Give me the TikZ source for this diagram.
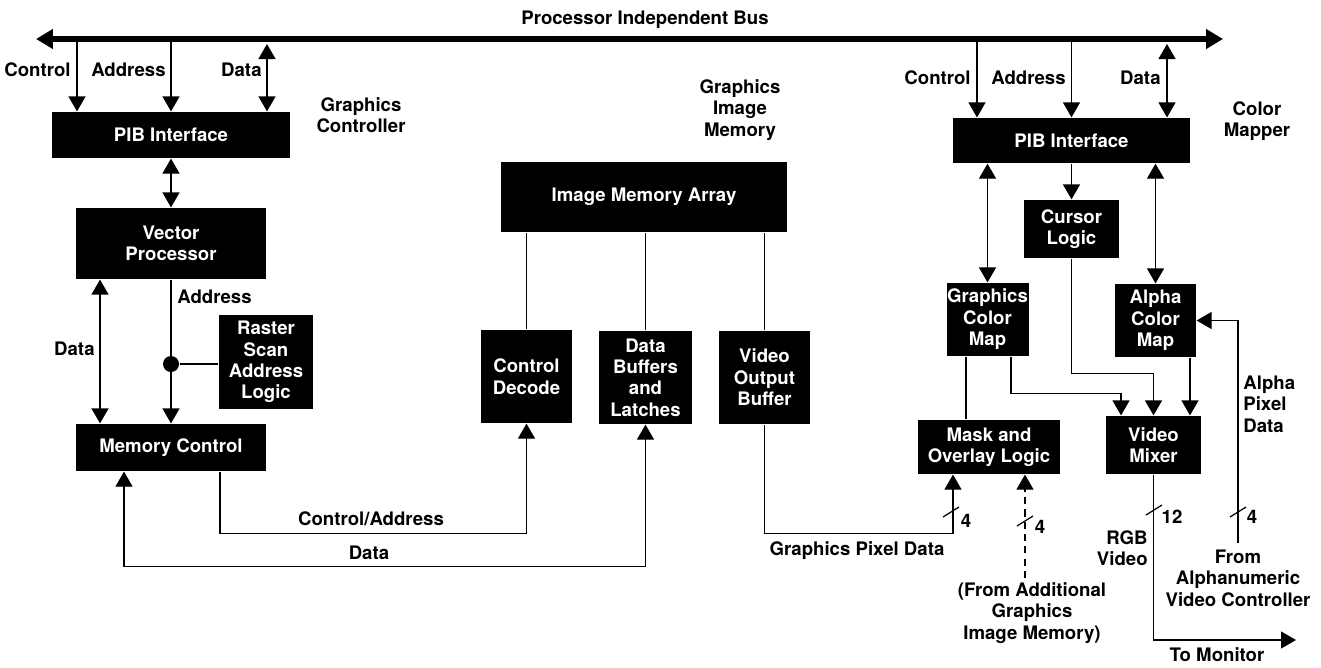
\documentclass[tikz,border=0pt]{standalone}
\usepackage{fontspec}
\setmainfont{TeX Gyre Heros}
\usetikzlibrary{arrows.meta}

\begin{document}
\begin{tikzpicture}[x=0.02cm, y=-0.02cm, line width=0.7pt,
    font=\bfseries\fontsize{10.6}{12.2}\selectfont,
    >={Triangle[length=0.3cm,width=0.34cm]}]

  % Styles for blocks, labels and the bus
  \tikzset{
    unit/.style={fill=black, text=white, align=center, inner sep=0pt},
    lbl/.style={align=center, inner sep=1pt},
    bus/.style={line width=0.13cm,
      {Triangle[length=0.34cm,width=0.38cm]}-{Triangle[length=0.34cm,width=0.38cm]}}
  }

  \useasboundingbox (0,0) rectangle (1321,667);

  % Bus along the top
  \coordinate (busL) at (36,39);
  \coordinate (busR) at (1223,39);
  \draw[bus] (busL) -- (busR);
  \node[lbl] (busname) at (645,20) {Processor Independent Bus};

  % Graphics controller blocks
  \node[unit, minimum width=4.76cm, minimum height=0.92cm] (gcpib) at (171,135) {PIB Interface};
  \node[unit, minimum width=3.8cm, minimum height=1.42cm] (vecproc) at (171,243.5) {Vector\\Processor};
  \node[unit, minimum width=1.88cm, minimum height=1.88cm] (raster) at (266,362) {Raster\\Scan\\Address\\Logic};
  \node[unit, minimum width=3.8cm, minimum height=0.94cm] (memctl) at (171,447.5) {Memory Control};
  \node[lbl] (gclbl) at (361,115) {Graphics\\Controller};

  % Graphics image memory blocks
  \node[unit, minimum width=5.72cm, minimum height=1.4cm] (imgarray) at (644,197) {Image Memory Array};
  \node[unit, minimum width=1.82cm, minimum height=1.86cm] (ctldec) at (526.5,376.5) {Control\\Decode};
  \node[unit, minimum width=1.86cm, minimum height=1.86cm] (databuf) at (645.5,377.5) {Data\\Buffers\\and\\Latches};
  \node[unit, minimum width=1.82cm, minimum height=1.86cm] (vidout) at (764.5,377.5) {Video\\Output\\Buffer};
  \node[lbl] (gimlbl) at (740,110) {Graphics\\Image\\Memory};

  % Color mapper blocks
  \node[unit, minimum width=4.74cm, minimum height=0.9cm] (cmpib) at (1071.5,140.5) {PIB Interface};
  \node[unit, minimum width=1.9cm, minimum height=1.16cm] (cursor) at (1071.5,229) {Cursor\\Logic};
  \node[unit, minimum width=1.64cm, minimum height=1.46cm] (gcmap) at (987.5,319.5) {Graphics\\Color\\Map};
  \node[unit, minimum width=1.62cm, minimum height=1.46cm] (acmap) at (1155.5,320.5) {Alpha\\Color\\Map};
  \node[unit, minimum width=2.84cm, minimum height=1.08cm] (mask) at (989,447) {Mask and\\Overlay Logic};
  \node[unit, minimum width=1.9cm, minimum height=1.16cm] (mixer) at (1153.5,445) {Video\\Mixer};
  \node[lbl] (cmlbl) at (1257,121) {Color\\Mapper};

  % Taps off the bus
  \coordinate (gcctl) at (77,39);
  \coordinate (gcadr) at (171,39);
  \coordinate (gcdat) at (267,44);
  \coordinate (cmctl) at (977,39);
  \coordinate (cmadr) at (1071.5,39);
  \coordinate (cmdat) at (1167,44);
  \draw[->] (gcctl) -- (gcctl |- gcpib.north);
  \draw[->] (gcadr) -- (gcadr |- gcpib.north);
  \draw[<->] (gcdat) -- (gcdat |- gcpib.north);
  \draw[->] (cmctl) -- (cmctl |- cmpib.north);
  \draw[->] (cmadr) -- (cmadr |- cmpib.north);
  \draw[<->] (cmdat) -- (cmdat |- cmpib.north);
  \node[lbl, anchor=east] (gcctltxt) at (73,70) {Control};
  \node[lbl, anchor=east] (gcadrtxt) at (168,70) {Address};
  \node[lbl, anchor=east] (gcdattxt) at (264,70) {Data};
  \node[lbl, anchor=east] (cmctltxt) at (973,78) {Control};
  \node[lbl, anchor=east] (cmadrtxt) at (1068,78) {Address};
  \node[lbl, anchor=east] (cmdattxt) at (1163,78) {Data};

  % Graphics controller connections
  \draw[<->] (gcpib) -- (vecproc);
  \draw[<->] ([xshift=-1.42cm]vecproc.south) -- ([xshift=-1.42cm]memctl.north);
  \draw[->] (vecproc) -- (memctl);
  \node[circle, fill, inner sep=0pt, minimum size=0.32cm] (jn) at (171,364) {};
  \draw (jn) -- (jn -| raster.west);
  \node[lbl, anchor=east] (vdattxt) at (97,349) {Data};
  \node[lbl, anchor=west] (vadrtxt) at (175,297) {Address};

  % Links to the image memory
  \draw[->] ([xshift=0.98cm]memctl.south) -- ++(0,62) -| (ctldec.south);
  \draw[<->] ([xshift=-0.94cm]memctl.south) -- ++(0,95) -| (databuf.south);
  \node[lbl] (catxt) at (371,519) {Control/Address};
  \node[lbl] (mdtxt) at (369,553) {Data};
  \draw (imgarray.south -| ctldec) -- (ctldec.north);
  \draw (imgarray.south -| databuf) -- (databuf.north);
  \draw (imgarray.south -| vidout) -- (vidout.north);

  % Color mapper connections
  \draw[->] (cmpib) -- (cursor);
  \draw[<->] (cmpib.south -| gcmap) -- (gcmap.north);
  \draw[<->] (cmpib.south -| acmap) -- (acmap.north);
  \draw ([xshift=-0.43cm]gcmap.south) -- ([xshift=-0.43cm]gcmap.south |- mask.north);
  \draw[->] ([xshift=0.47cm]gcmap.south) -- ++(0,37) -| ([xshift=-0.65cm]mixer.north);
  \draw[->] (cursor.south) -- ++(0,115) -| (mixer.north);
  \draw[->] ([xshift=0.69cm]acmap.south) -- ([xshift=0.69cm]acmap.south |- mixer.north);

  % Pixel data into the mask logic
  \draw[->] (vidout.south) -- ++(0,109) -| ([xshift=-0.72cm]mask.south);
  \node[lbl] (gpdtxt) at (857,551) {Graphics Pixel Data};
  \draw (951,512) ++(-8,5) -- ++(16,-10);
  \node[lbl] (gpdw) at (966,521) {4};
  \coordinate (extgm) at (1025,578);
  \draw[->, dashed, dash pattern=on 4pt off 3pt] (extgm) -- (extgm |- mask.south);
  \draw (1025,521) ++(-8,5) -- ++(16,-10);
  \node[lbl] (extw) at (1040,527) {4};
  \node[lbl] (exttxt) at (1032,613) {(From Additional\\Graphics\\Image Memory)};

  % Video out and alpha pixel input
  \coordinate (monitor) at (1296,640);
  \draw[->] (mixer.south) |- (monitor);
  \draw (1154,510) ++(-8,5) -- ++(16,-10);
  \node[lbl] (rgbw) at (1172,517) {12};
  \node[lbl, anchor=east, align=right] (rgbtxt) at (1150,548) {RGB\\Video};
  \node[lbl] (montxt) at (1217,655) {To Monitor};
  \coordinate (alphain) at (1238,543);
  \draw[->] (alphain) |- (acmap.east);
  \draw (1238,512) ++(-8,5) -- ++(16,-10);
  \node[lbl] (alphaw) at (1252,517) {4};
  \node[lbl, anchor=west, align=left] (alphatxt) at (1241,404) {Alpha\\Pixel\\Data};
  \node[lbl] (anctxt) at (1238,578) {From\\Alphanumeric\\Video Controller};

\end{tikzpicture}
\end{document}
